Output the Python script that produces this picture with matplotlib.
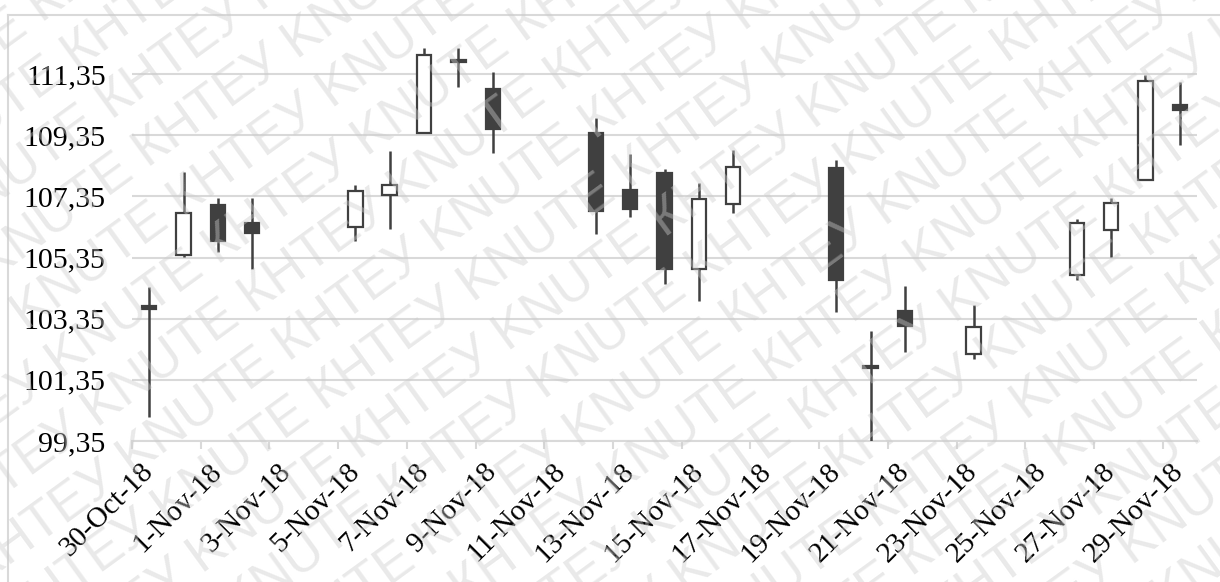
import datetime as dt
import numpy as np
import matplotlib
matplotlib.use("Agg")
import matplotlib.pyplot as plt
import matplotlib.dates as mdates
from matplotlib.patches import Rectangle

# daily quotes, Oct 30 - Nov 29 2018 (no weekends / holidays)
dates = ["2018-10-30", "2018-10-31", "2018-11-01", "2018-11-02",
         "2018-11-05", "2018-11-06", "2018-11-07", "2018-11-08", "2018-11-09",
         "2018-11-12", "2018-11-13", "2018-11-14", "2018-11-15", "2018-11-16",
         "2018-11-19", "2018-11-20", "2018-11-21", "2018-11-23",
         "2018-11-26", "2018-11-27", "2018-11-28", "2018-11-29"]
opens = [103.75, 105.42, 107.08, 106.49,
         106.36, 107.39, 109.43, 111.80, 110.85,
         109.42, 107.55, 108.11, 104.99, 107.09,
         108.29, 101.80, 103.60, 102.18,
         104.79, 106.26, 107.89, 110.34]
highs = [104.38, 108.14, 107.31, 107.31,
         107.72, 108.83, 112.22, 112.19, 111.43,
         109.93, 108.73, 108.24, 107.78, 108.87,
         108.55, 102.96, 104.42, 103.81,
         106.62, 107.31, 111.31, 111.10]
lows = [100.13, 105.38, 105.54, 104.99,
        105.90, 106.28, 109.43, 110.92, 108.77,
        106.11, 106.67, 104.48, 103.93, 106.82,
        103.57, 99.35, 102.27, 102.03,
        104.61, 105.36, 107.89, 109.04]
closes = [103.68, 106.82, 105.90, 106.15,
          107.52, 107.72, 111.96, 111.74, 109.55,
          106.86, 106.93, 104.97, 107.28, 108.30,
          104.63, 101.74, 103.12, 103.09,
          106.48, 107.15, 111.12, 110.17]

tick_labels = ["30-Oct-18", "1-Nov-18", "3-Nov-18", "5-Nov-18", "7-Nov-18",
               "9-Nov-18", "11-Nov-18", "13-Nov-18", "15-Nov-18", "17-Nov-18",
               "19-Nov-18", "21-Nov-18", "23-Nov-18", "25-Nov-18", "27-Nov-18",
               "29-Nov-18"]
y_ticks = [99.35, 101.35, 103.35, 105.35, 107.35, 109.35, 111.35]

plt.rcParams["font.family"] = ["Liberation Serif", "DejaVu Serif"]

fig = plt.figure(figsize=(12.2, 5.82), dpi=100)
ax = fig.add_axes([132 / 1220, 141 / 582, 1065 / 1220, 428 / 582])

x = mdates.date2num([dt.datetime.strptime(d, "%Y-%m-%d") for d in dates])
dark = "#404040"
body_w = 0.42

for xi, o, h, l, c in zip(x, opens, highs, lows, closes):
    top, bot = max(o, c), min(o, c)
    ax.plot([xi, xi], [top, h], color=dark, lw=1.8, zorder=3, solid_capstyle="butt")
    ax.plot([xi, xi], [l, bot], color=dark, lw=1.8, zorder=3, solid_capstyle="butt")
    face = "white" if c > o else dark
    hgt = max(top - bot, 0.06)
    ax.add_patch(Rectangle((xi - body_w / 2, bot), body_w, hgt,
                           facecolor=face, edgecolor=dark, lw=1.6, zorder=4))

label_x = mdates.date2num([dt.datetime.strptime(t, "%d-%b-%y") for t in tick_labels])
ax.set_xlim(x[0] - 0.5, x[-1] + 0.5)
ax.set_ylim(99.35, 113.35)

ax.set_yticks(y_ticks)
ax.set_yticklabels([f"{v:.2f}".replace(".", ",") for v in y_ticks])
ax.tick_params(axis="y", length=0, pad=19, labelsize=21.5)

# labels sit on the days, tick marks on the day boundaries
ax.set_xticks(label_x)
ax.set_xticklabels(tick_labels, rotation=45, ha="right", va="center",
                   rotation_mode="anchor")
ax.tick_params(axis="x", which="major", length=0, pad=19, labelsize=21)
ax.set_xticks(label_x - 0.5, minor=True)
ax.tick_params(axis="x", which="minor", length=6, width=1.5, color="#d9d9d9")

ax.grid(axis="y", color="#d9d9d9", lw=1.5, zorder=0)
for s in ["top", "right", "left"]:
    ax.spines[s].set_visible(False)
ax.spines["bottom"].set_color("#d9d9d9")
ax.spines["bottom"].set_linewidth(1.5)
ax.set_axisbelow(True)

# chart area border (left and top edges)
fig.add_artist(plt.Line2D([8 / 1220, 8 / 1220], [0, 1 - 15 / 582],
                          transform=fig.transFigure, color="#d9d9d9", lw=1.5))
fig.add_artist(plt.Line2D([8 / 1220, 1], [1 - 15 / 582, 1 - 15 / 582],
                          transform=fig.transFigure, color="#d9d9d9", lw=1.5))

# watermark
mark = "КНТЕУ KNUTE " * 7
ang = np.deg2rad(36)
step = 60
for k in range(-14, 14):
    # shift each row along its normal
    px = -700 - k * step * np.sin(ang)
    py = k * step * np.cos(ang) - 350
    fig.text(px / 1220, py / 582, mark, rotation=36, rotation_mode="anchor",
             ha="left", va="baseline", fontsize=38, family="Liberation Sans",
             color="#cccccc", alpha=0.42, zorder=10)

fig.savefig("out.png", dpi=100)
